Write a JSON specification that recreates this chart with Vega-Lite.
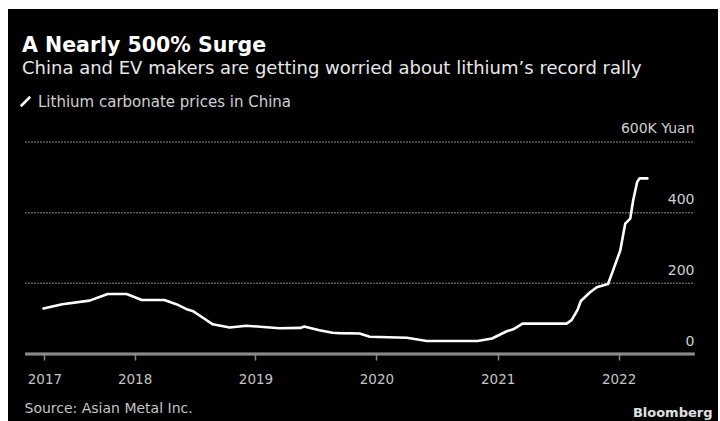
{
  "$schema": "https://vega.github.io/schema/vega-lite/v6.json",
  "width": 710,
  "height": 412,
  "autosize": {"type": "none"},
  "padding": {"left": 8, "top": 9, "right": 2, "bottom": 0},
  "background": "#ffffff",
  "config": {"view": {"fill": "#000000", "stroke": null}, "font": "DejaVu Sans"},
  "title": {
    "text": "A Nearly 500% Surge",
    "subtitle": "China and EV makers are getting worried about lithium’s record rally",
    "anchor": "start",
    "frame": "group",
    "offset": -69,
    "dx": 14,
    "fontSize": 20.5,
    "fontWeight": "bold",
    "color": "#ffffff",
    "subtitleFontSize": 18,
    "subtitleColor": "#e8e8e8",
    "subtitlePadding": 4
  },
  "datasets": {
    "prices": [
      {"date": "2017-04-01", "price": 129},
      {"date": "2017-05-28", "price": 141},
      {"date": "2017-08-18", "price": 151},
      {"date": "2017-10-12", "price": 170},
      {"date": "2017-12-08", "price": 170},
      {"date": "2018-01-23", "price": 153},
      {"date": "2018-04-01", "price": 153},
      {"date": "2018-05-07", "price": 141},
      {"date": "2018-06-07", "price": 127},
      {"date": "2018-06-25", "price": 122},
      {"date": "2018-08-01", "price": 99},
      {"date": "2018-08-25", "price": 84},
      {"date": "2018-10-15", "price": 75},
      {"date": "2018-12-05", "price": 80},
      {"date": "2019-03-14", "price": 73},
      {"date": "2019-05-18", "price": 74},
      {"date": "2019-05-28", "price": 78},
      {"date": "2019-07-13", "price": 67},
      {"date": "2019-08-21", "price": 60},
      {"date": "2019-09-12", "price": 59},
      {"date": "2019-11-11", "price": 58},
      {"date": "2019-12-12", "price": 49},
      {"date": "2020-04-02", "price": 46},
      {"date": "2020-06-01", "price": 37},
      {"date": "2020-11-01", "price": 37},
      {"date": "2020-12-15", "price": 44},
      {"date": "2021-01-30", "price": 65},
      {"date": "2021-02-17", "price": 70},
      {"date": "2021-03-17", "price": 86},
      {"date": "2021-07-28", "price": 86},
      {"date": "2021-08-12", "price": 96},
      {"date": "2021-08-30", "price": 125},
      {"date": "2021-09-09", "price": 150},
      {"date": "2021-10-06", "price": 174},
      {"date": "2021-10-27", "price": 189},
      {"date": "2021-11-30", "price": 198},
      {"date": "2021-12-15", "price": 236},
      {"date": "2022-01-06", "price": 293},
      {"date": "2022-01-21", "price": 369},
      {"date": "2022-02-05", "price": 383},
      {"date": "2022-02-14", "price": 435},
      {"date": "2022-02-26", "price": 487},
      {"date": "2022-03-05", "price": 497},
      {"date": "2022-03-29", "price": 497}
    ],
    "grid": [{"v": 200}, {"v": 400}, {"v": 600}]
  },
  "layer": [
    {
      "data": {"name": "grid"},
      "mark": {"type": "rule", "color": "#7a7a7a", "strokeWidth": 1.5, "strokeDash": [1.5, 1.5]},
      "encoding": {
        "y": {"field": "v", "type": "quantitative"},
        "x": {"datum": {"year": 2017, "month": 2, "date": 5, "utc": true}, "type": "temporal"},
        "x2": {"datum": {"year": 2022, "month": 8, "date": 18, "utc": true}}
      }
    },
    {
      "data": {"name": "grid"},
      "mark": {"type": "rule", "color": "#8a8a8a", "strokeWidth": 2.5},
      "encoding": {
        "y": {"datum": 0, "type": "quantitative"},
        "x": {"datum": {"year": 2017, "month": 2, "date": 5, "utc": true}, "type": "temporal"},
        "x2": {"datum": {"year": 2022, "month": 8, "date": 18, "utc": true}}
      }
    },
    {
      "data": {"name": "prices"},
      "mark": {"type": "line", "strokeWidth": 2.6, "strokeJoin": "round", "strokeCap": "round"},
      "encoding": {
        "x": {
          "field": "date",
          "type": "temporal",
          "scale": {
            "type": "utc",
            "domain": [
              {"year": 2016, "month": 12, "date": 15, "utc": true},
              {"year": 2022, "month": 10, "date": 28, "utc": true}
            ]
          },
          "axis": {
            "orient": "bottom",
            "offset": -67,
            "domain": false,
            "grid": false,
            "values": [
              {"year": 2017, "month": 4, "date": 4, "utc": true},
              {"year": 2018, "month": 1, "date": 1, "utc": true},
              {"year": 2019, "month": 1, "date": 1, "utc": true},
              {"year": 2020, "month": 1, "date": 1, "utc": true},
              {"year": 2021, "month": 1, "date": 1, "utc": true},
              {"year": 2022, "month": 1, "date": 1, "utc": true}
            ],
            "format": "%Y",
            "ticks": true,
            "tickSize": 6,
            "tickColor": "#8a8a8a",
            "tickWidth": 1.5,
            "labelPadding": 12,
            "labelColor": "#c4c4c4",
            "labelFontSize": 13.5,
            "labelBaseline": "top",
            "title": "Source: Asian Metal Inc.",
            "titleAnchor": "start",
            "titleAlign": "left",
            "titleX": 16,
            "titleY": 54,
            "titleBaseline": "middle",
            "titleFontSize": 14,
            "titleFontWeight": "normal",
            "titleColor": "#c4c4c4"
          }
        },
        "y": {
          "field": "price",
          "type": "quantitative",
          "scale": {"domain": [-189.6, 976.4], "nice": false, "zero": false},
          "axis": {
            "orient": "right",
            "values": [0, 200, 400, 600],
            "grid": false,
            "domain": false,
            "ticks": false,
            "tickSize": 0,
            "labelPadding": -24,
            "labelAlign": "right",
            "labelBaseline": "alphabetic",
            "labelOffset": -9,
            "labelColor": "#d0d0d0",
            "labelFontSize": 14,
            "labelExpr": "datum.value == 600 ? '600K Yuan' : datum.label",
            "title": "Bloomberg",
            "titleAngle": 0,
            "titleAlign": "right",
            "titleBaseline": "middle",
            "titleX": -6,
            "titleY": 403,
            "titleFontSize": 13,
            "titleFontWeight": "bold",
            "titleColor": "#e0e0e0"
          }
        },
        "color": {
          "datum": "Lithium carbonate prices in China",
          "scale": {"range": ["#ffffff"]},
          "legend": {
            "orient": "none",
            "legendX": 10,
            "legendY": 85,
            "title": null,
            "symbolType": "M-1,1L1,-1",
            "symbolStrokeWidth": 2.5,
            "symbolSize": 90,
            "labelColor": "#d0d0d0",
            "labelFontSize": 15,
            "labelLimit": 500,
            "labelOffset": 5
          }
        }
      }
    }
  ]
}
